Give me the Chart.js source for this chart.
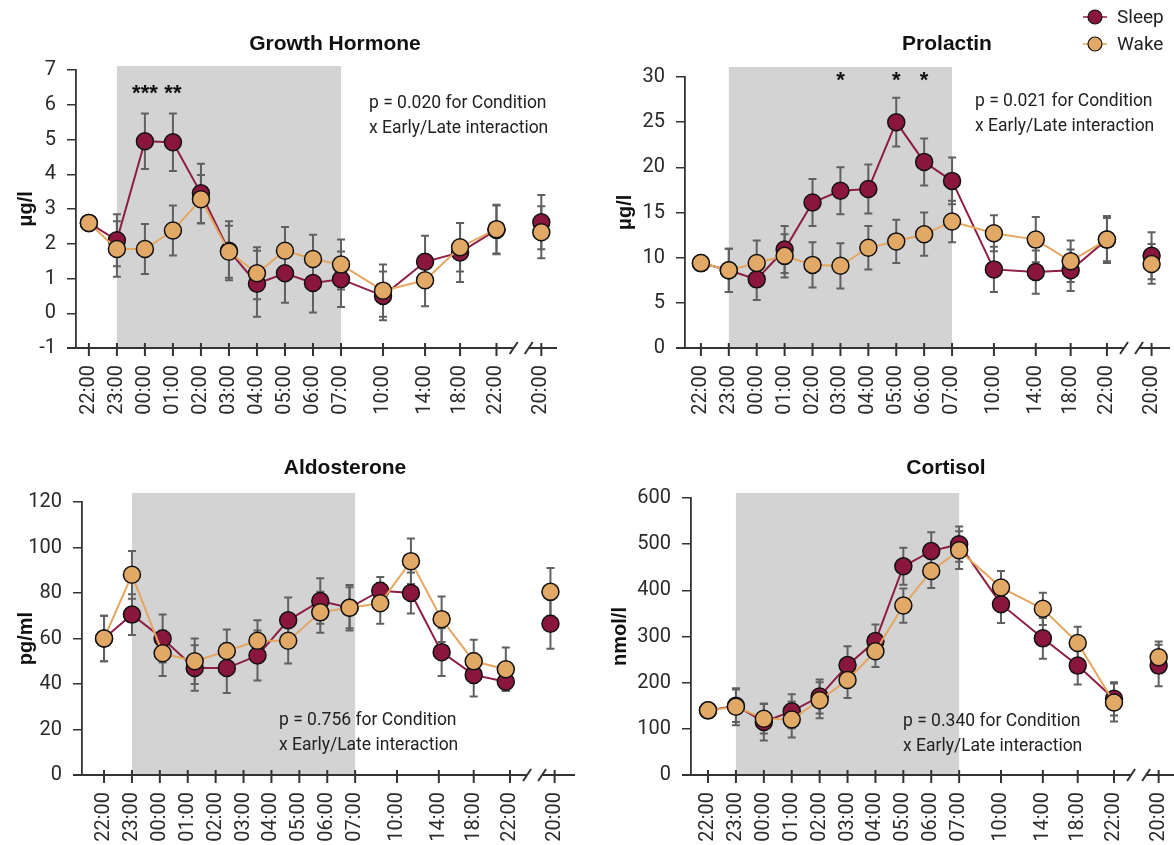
<!DOCTYPE html>
<html>
<head>
<meta charset="utf-8">
<script src="https://cdn.jsdelivr.net/npm/chart.js@4.4.1/dist/chart.umd.min.js"></script>
<style>
    html, body { margin: 0; padding: 0; background: #fff; }
    body { width: 1174px; height: 845px; position: relative; overflow: hidden; }
    canvas { position: absolute; }
</style>
</head>
<body>
<canvas id="gh" width="580" height="425" style="left:0px;top:0px"></canvas>
<canvas id="prl" width="587" height="425" style="left:587px;top:0px"></canvas>
<canvas id="ald" width="587" height="420" style="left:0px;top:425px"></canvas>
<canvas id="cor" width="587" height="420" style="left:587px;top:425px"></canvas>
<script>
// datos del grafico
var timeLabels = ['22:00', '23:00', '00:00', '01:00', '02:00', '03:00', '04:00', '05:00', '06:00', '07:00', '10:00', '14:00', '18:00', '22:00', '20:00'];
var tickSlots = [0, 1, 2, 3, 4, 5, 6, 7, 8, 9, 10.5, 12, 13.25, 14.55, 16.15];
var aldoPointSlots = [0, 1, 2.1, 3.25, 4.4, 5.5, 6.6, 7.75, 8.8, 9.9, 11, 12.1, 13.25, 14.4, 16];
var breakSlot = 15.45;
var seriesNames = ['Sleep', 'Wake'];

var ghSleep = [2.6, 2.1, 4.95, 4.92, 3.45, 1.8, 0.85, 1.15, 0.87, 0.98, 0.5, 1.48, 1.75, 2.4, 2.62];
var ghSleepSem = [0, 0.75, 0.8, 0.83, 0.85, 0.85, 0.95, 0.85, 0.85, 0.8, 0.7, 0.75, 0.85, 0.7, 0.78];
var ghWake = [2.6, 1.85, 1.85, 2.38, 3.28, 1.77, 1.15, 1.8, 1.56, 1.4, 0.65, 0.95, 1.9, 2.42, 2.33];
var ghWakeSem = [0, 0.8, 0.72, 0.72, 0.7, 0.75, 0.75, 0.68, 0.7, 0.72, 0.75, 0.75, 0.7, 0.7, 0.75];
var ghStars = ['', '', '***', '**', '', '', '', '', '', '', '', '', '', '', ''];

var prlSleep = [9.4, 8.6, 7.6, 10.9, 16.1, 17.4, 17.6, 25, 20.6, 18.5, 8.7, 8.4, 8.6, 12, 10.2];
var prlSleepSem = [0, 2.4, 2.3, 2.6, 2.6, 2.6, 2.7, 2.7, 2.6, 2.6, 2.5, 2.4, 2.3, 2.6, 2.6];
var prlWake = [9.4, 8.6, 9.4, 10.2, 9.2, 9.1, 11.1, 11.8, 12.6, 14, 12.7, 12, 9.6, 12, 9.3];
var prlWakeSem = [0, 2.4, 2.5, 2.4, 2.5, 2.5, 2.4, 2.4, 2.4, 2.3, 2.0, 2.5, 2.3, 2.4, 2.2];
var prlStars = ['', '', '', '', '', '*', '', '*', '*', '', '', '', '', '', ''];

var aldSleep = [60, 70.5, 60, 47, 47, 52.5, 68, 76.5, 73.5, 81, 80, 54, 44, 41, 66.5];
var aldSleepSem = [10, 9, 10.5, 10, 11, 11, 10, 10, 10, 6, 9, 10.5, 9.5, 4, 11];
var aldWake = [60, 88, 53.5, 50, 54.5, 59, 59, 71.5, 73.5, 75.5, 94, 68.5, 50, 46.5, 80.5];
var aldWakeSem = [10, 10.5, 10, 10, 9.5, 9, 10, 9, 9, 9, 10, 10, 9.5, 9.5, 10.5];

var corSleep = [140, 150, 115, 138, 170, 238, 290, 452, 485, 500, 370, 296, 237, 165, 237];
var corSleepSem = [0, 35, 40, 37, 37, 41, 36, 40, 41, 38, 41, 44, 41, 36, 45];
var corWake = [140, 148, 122, 120, 162, 206, 268, 367, 442, 487, 406, 360, 286, 157, 255];
var corWakeSem = [0, 40, 32, 39, 39, 39, 34, 37, 37, 41, 36, 35, 35, 41, 34];

var sleepLine = '#8e1d43';
var sleepFill = '#8a163d';
var wakeLine = '#e5a760';
var wakeFill = '#e2a866';
var tickFont = { family: 'Roboto, "Liberation Sans", Arial', size: 20, weight: 400 };

function puntos(slots, valores) {
    var out = [];
    for (var i = 0; i < valores.length; i++) {
        out.push({ x: slots[i], y: valores[i] });
    }
    return out;
}

var decor = {
    id: 'decor',
    beforeDatasetsDraw: function(chart, args, opts) {
        var ctx = chart.ctx;
        var area = chart.chartArea;
        var xs = chart.scales.x;
        var ys = chart.scales.y;
        ctx.save();

        // franja gris de la noche
        var x1 = xs.getPixelForValue(1);
        var x2 = xs.getPixelForValue(9);
        ctx.fillStyle = '#d3d3d3';
        ctx.fillRect(x1, opts.shadeTop, x2 - x1, area.bottom - opts.shadeTop);

        // eje x con corte
        var y = area.bottom;
        var bx = xs.getPixelForValue(breakSlot);
        ctx.strokeStyle = '#333';
        ctx.lineWidth = 2;
        ctx.beginPath();
        ctx.moveTo(area.left - 9, y);
        ctx.lineTo(bx - 8, y);
        ctx.moveTo(bx + 7, y);
        ctx.lineTo(area.right, y);
        ctx.moveTo(bx - 12, y + 6);
        ctx.lineTo(bx - 4, y - 6);
        ctx.moveTo(bx + 3, y + 6);
        ctx.lineTo(bx + 11, y - 6);
        for (var i = 0; i < tickSlots.length; i++) {
            var tx = xs.getPixelForValue(tickSlots[i]);
            ctx.moveTo(tx, y - 5);
            ctx.lineTo(tx, y + 8);
        }
        ctx.stroke();

        // barras de error
        ctx.strokeStyle = '#606060';
        ctx.lineWidth = 2;
        for (var d = 0; d < chart.data.datasets.length; d++) {
            var ds = chart.data.datasets[d];
            for (var j = 0; j < ds.data.length; j++) {
                var sem = ds.sem[j];
                if (!sem) continue;
                var px = xs.getPixelForValue(ds.data[j].x);
                var yt = ys.getPixelForValue(ds.data[j].y + sem);
                var yb = ys.getPixelForValue(ds.data[j].y - sem);
                ctx.beginPath();
                ctx.moveTo(px, yt);
                ctx.lineTo(px, yb);
                ctx.moveTo(px - 4, yt);
                ctx.lineTo(px + 4, yt);
                ctx.moveTo(px - 4, yb);
                ctx.lineTo(px + 4, yb);
                ctx.stroke();
            }
        }
        ctx.restore();
    },
    afterDraw: function(chart, args, opts) {
        var ctx = chart.ctx;
        var xs = chart.scales.x;
        ctx.save();

        // titulo del panel
        ctx.fillStyle = '#111';
        ctx.font = 'bold 21px "Liberation Sans", Arial, sans-serif';
        ctx.textAlign = 'center';
        ctx.textBaseline = 'middle';
        ctx.fillText(opts.title, opts.titleX, opts.titleY);

        // texto del p valor
        ctx.fillStyle = '#222';
        ctx.font = '400 17.5px Roboto, "Liberation Sans", Arial';
        ctx.textAlign = 'left';
        ctx.fillText(opts.pText[0], opts.pX, opts.pY);
        ctx.fillText(opts.pText[1], opts.pX, opts.pY + 25);

        // asteriscos
        if (opts.stars) {
            ctx.fillStyle = '#111';
            ctx.font = 'bold 22px "Liberation Sans", Arial, sans-serif';
            ctx.textAlign = 'center';
            ctx.textBaseline = 'alphabetic';
            for (var i = 0; i < opts.stars.length; i++) {
                if (!opts.stars[i]) continue;
                ctx.fillText(opts.stars[i], xs.getPixelForValue(tickSlots[i]), opts.starY + 12);
            }
        }

        // leyenda
        if (opts.legend) {
            dibujarLeyenda(ctx, opts.legend.x, opts.legend.y, sleepLine, sleepFill, seriesNames[0]);
            dibujarLeyenda(ctx, opts.legend.x, opts.legend.y + 27, wakeLine, wakeFill, seriesNames[1]);
        }
        ctx.restore();
    }
};

function dibujarLeyenda(ctx, x, y, linea, relleno, texto) {
    ctx.strokeStyle = linea;
    ctx.lineWidth = 1.5;
    ctx.beginPath();
    ctx.moveTo(x - 12, y);
    ctx.lineTo(x + 12, y);
    ctx.stroke();
    ctx.beginPath();
    ctx.arc(x, y, 7, 0, Math.PI * 2);
    ctx.fillStyle = relleno;
    ctx.fill();
    ctx.strokeStyle = '#111';
    ctx.lineWidth = 1.2;
    ctx.stroke();
    ctx.fillStyle = '#222';
    ctx.font = '400 19px Roboto, "Liberation Sans", Arial';
    ctx.textAlign = 'left';
    ctx.textBaseline = 'middle';
    ctx.fillText(texto, x + 22, y + 1);
}

function serie(nombre, slots, valores, sem, linea, relleno, orden) {
    var ultimo = valores.length - 1;
    return {
        label: nombre,
        data: puntos(slots, valores),
        sem: sem,
        borderColor: linea,
        backgroundColor: relleno,
        borderWidth: 2,
        pointBackgroundColor: relleno,
        pointBorderColor: '#111',
        pointBorderWidth: 1.5,
        pointRadius: 8.5,
        tension: 0,
        order: orden,
        clip: false,
        segment: {
            borderColor: function(c) { return c.p1DataIndex === ultimo ? 'rgba(0,0,0,0)' : undefined; }
        }
    };
}

function crearGrafico(id, c) {
    var ctx = document.getElementById(id).getContext('2d');
    return new Chart(ctx, {
        type: 'line',
        data: {
            datasets: [
                serie(seriesNames[0], c.slots, c.sleep, c.sleepSem, sleepLine, sleepFill, 2),
                serie(seriesNames[1], c.slots, c.wake, c.wakeSem, wakeLine, wakeFill, 1)
            ]
        },
        options: {
            responsive: false,
            devicePixelRatio: 1,
            animation: false,
            events: [],
            layout: { autoPadding: false, padding: { left: 0, right: c.padRight, top: c.padTop, bottom: 0 } },
            plugins: {
                legend: { display: false },
                tooltip: { enabled: false },
                decor: c.decor
            },
            scales: {
                x: {
                    type: 'linear',
                    min: c.xMin,
                    max: c.xMax,
                    afterBuildTicks: function(s) {
                        var t = [];
                        for (var i = 0; i < tickSlots.length; i++) t.push({ value: tickSlots[i] });
                        s.ticks = t;
                    },
                    ticks: {
                        autoSkip: false,
                        minRotation: 90,
                        maxRotation: 90,
                        padding: 17,
                        color: '#2a2a2a',
                        font: tickFont,
                        callback: function(v, i) { return timeLabels[i]; }
                    },
                    grid: { display: false, drawTicks: false },
                    border: { display: false },
                    afterFit: function(s) { s.height = c.xHeight; s.paddingLeft = 0; s.paddingRight = 0; }
                },
                y: {
                    min: c.yMin,
                    max: c.yMax,
                    ticks: { stepSize: c.yStep, color: '#2a2a2a', font: tickFont, padding: 11 },
                    grid: { drawOnChartArea: false, drawTicks: true, tickLength: 9, color: '#333', lineWidth: 1.5 },
                    border: { display: true, color: '#333', width: 1.8 },
                    title: {
                        display: true,
                        text: c.yTitle,
                        color: '#111',
                        font: { family: '"Liberation Sans", Arial', size: 20, weight: 'bold' },
                        padding: { top: c.yTitlePad, bottom: 0 }
                    },
                    afterFit: function(s) { s.width = c.yWidth; s.paddingTop = 0; s.paddingBottom = 0; }
                }
            }
        },
        plugins: [decor]
    });
}

crearGrafico('gh', {
    slots: tickSlots, sleep: ghSleep, sleepSem: ghSleepSem, wake: ghWake, wakeSem: ghWakeSem,
    yMin: -1, yMax: 7, yStep: 1, yTitle: 'μg/l', yTitlePad: 14,
    xMin: -0.46, xMax: 16.71, yWidth: 76, xHeight: 77, padTop: 70, padRight: 23,
    decor: {
        title: 'Growth Hormone', titleX: 335, titleY: 44, shadeTop: 66,
        pText: ['p = 0.020 for Condition', 'x Early/Late interaction'], pX: 369, pY: 104,
        stars: ghStars, starY: 88
    }
});

crearGrafico('prl', {
    slots: tickSlots, sleep: prlSleep, sleepSem: prlSleepSem, wake: prlWake, wakeSem: prlWakeSem,
    yMin: 0, yMax: 30, yStep: 5, yTitle: 'μg/l', yTitlePad: 26,
    xMin: -0.57, xMax: 16.81, yWidth: 98, xHeight: 77, padTop: 77, padRight: 4,
    decor: {
        title: 'Prolactin', titleX: 360, titleY: 44, shadeTop: 67,
        pText: ['p = 0.021 for Condition', 'x Early/Late interaction'], pX: 388, pY: 102,
        stars: prlStars, starY: 75,
        legend: { x: 508, y: 17 }
    }
});

crearGrafico('ald', {
    slots: aldoPointSlots, sleep: aldSleep, sleepSem: aldSleepSem, wake: aldWake, wakeSem: aldWakeSem,
    yMin: 0, yMax: 120, yStep: 20, yTitle: 'pg/ml', yTitlePad: 14,
    xMin: -0.79, xMax: 16.88, yWidth: 82, xHeight: 70, padTop: 77, padRight: 12,
    decor: {
        title: 'Aldosterone', titleX: 345, titleY: 43, shadeTop: 68,
        pText: ['p = 0.756 for Condition', 'x Early/Late interaction'], pX: 279, pY: 296
    }
});

crearGrafico('cor', {
    slots: tickSlots, sleep: corSleep, sleepSem: corSleepSem, wake: corWake, wakeSem: corWakeSem,
    yMin: 0, yMax: 600, yStep: 100, yTitle: 'nmol/l', yTitlePad: 21,
    xMin: -0.61, xMax: 16.7, yWidth: 104, xHeight: 70, padTop: 73, padRight: 0,
    decor: {
        title: 'Cortisol', titleX: 359, titleY: 43, shadeTop: 68,
        pText: ['p = 0.340 for Condition', 'x Early/Late interaction'], pX: 316, pY: 297
    }
});
</script>
</body>
</html>
